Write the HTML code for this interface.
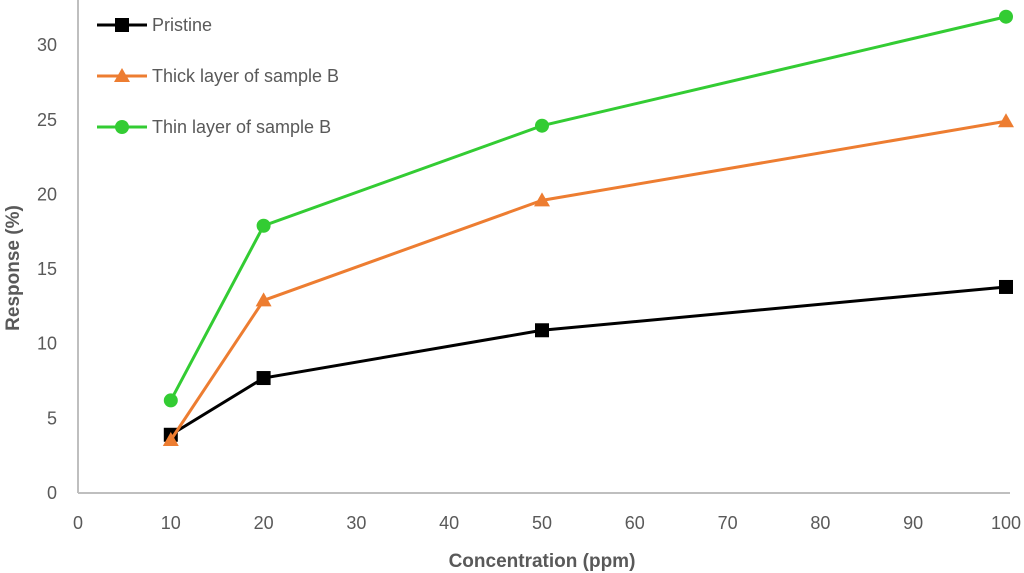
<!DOCTYPE html>
<html><head><meta charset="utf-8"><style>
body{margin:0;background:#fff;}
svg{display:block;font-family:"Liberation Sans",sans-serif;}
</style></head><body>
<svg id="c" width="1024" height="573"></svg>
<script>
const xTicks=[0,10,20,30,40,50,60,70,80,90,100];
const yTicks=[0,5,10,15,20,25,30];
const xs=[10,20,50,100];
const pristine=[3.9,7.7,10.9,13.8];
const thick=[3.55,12.9,19.6,24.9];
const thin=[6.2,17.9,24.6,31.9];
const names=["Pristine","Thick layer of sample B","Thin layer of sample B"];
const NS="http://www.w3.org/2000/svg";
const svg=document.getElementById('c');
const X=v=>78+v*9.28, Y=v=>493-v*14.93;
function el(t,a,p){const e=document.createElementNS(NS,t);for(const k in a)e.setAttribute(k,a[k]);(p||svg).appendChild(e);return e;}
let ax=el('line',{x1:78,y1:0,x2:78,y2:493,stroke:'#bfbfbf','stroke-width':2});


let bx=el('line',{x1:78,y1:493,x2:1010,y2:493,stroke:'#bfbfbf','stroke-width':2});


xTicks.forEach(v=>{let t=el('text',{x:X(v),y:529,'text-anchor':'middle','font-size':18,fill:'#595959'});t.textContent=v;

});
yTicks.forEach(v=>{let t=el('text',{x:57,y:Y(v)+6,'text-anchor':'end','font-size':18,fill:'#595959'});t.textContent=v;

});
let xt=el('text',{x:542,y:567,'text-anchor':'middle','font-size':19,'font-weight':'bold',fill:'#595959'});xt.textContent='Concentration (ppm)';


let yt=el('text',{x:0,y:0,'text-anchor':'middle','font-size':19,'font-weight':'bold',fill:'#595959',transform:'translate(19,268) rotate(-90)'});yt.textContent='Response (%)';


function marker(type,x,y,c,g){
 if(type==0)return el('rect',{x:x-7,y:y-7,width:14,height:14,fill:c},g);
 if(type==1)return el('polygon',{points:`${x},${y-8} ${x+8},${y+6} ${x-8},${y+6}`,fill:c},g);
 return el('circle',{cx:x,cy:y,r:7,fill:c},g);
}
const series=[[pristine,'#000000',0,'pristine'],[thick,'#ed7d31',1,'thick-layer'],[thin,'#33cc33',2,'thin-layer']];
series.forEach(([d,c,m,n],i)=>{
 const g=el('g',{});
 
 
 el('polyline',{points:d.map((v,j)=>X(xs[j])+','+Y(v)).join(' '),fill:'none',stroke:c,'stroke-width':3},g);
 d.forEach((v,j)=>{const mk=marker(m,X(xs[j]),Y(v),c,g);
 
 });
 const lg=el('g',{});
 
 
 const ly=25+i*51;
 el('line',{x1:97,y1:ly,x2:147,y2:ly,stroke:c,'stroke-width':3},lg);
 marker(m,122,ly,c,lg);
 const t=el('text',{x:152,y:ly+6,'font-size':18,fill:'#595959'},lg);t.textContent=names[i];
});
</script>
</body></html>
